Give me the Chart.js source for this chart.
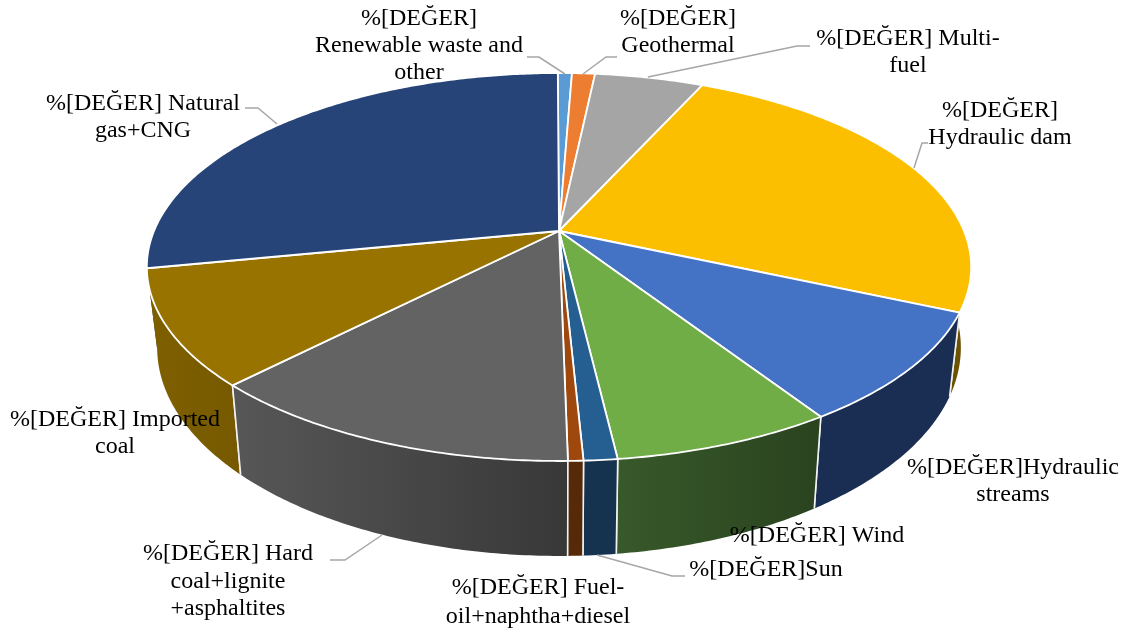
<!DOCTYPE html>
<html lang="en">
<head>
    <meta charset="UTF-8">
    <title>Pie 3D</title>
    <script src="https://cdn.jsdelivr.net/npm/chart.js"></script>
    <style>
        html, body { margin: 0; padding: 0; background: #fff; }
        #wrap { width: 1126px; height: 632px; }
    </style>
</head>
<body>
    <div id="wrap"><canvas id="pie" width="1126" height="632"></canvas></div>
    <script>
        const categories = ['Renewable waste and other', 'Geothermal', 'Multi-fuel', 'Hydraulic dam', 'Hydraulic streams', 'Wind', 'Sun', 'Fuel-oil+naphtha+diesel', 'Hard coal+lignite+asphaltites', 'Imported coal', 'Natural gas+CNG'];
        const values = [0.66, 1.08, 5.1, 24.8, 9.2, 7.3, 1.1, 0.5, 12.6, 9.6, 28];
        const topColors = ['#5b9bd5', '#ed7d31', '#a5a5a5', '#fcbf00', '#4472c4', '#70ad47', '#255e91', '#9e480e', '#636363', '#997300', '#264478'];
        const wallLeft = ['#2f5f8c', '#8a4a1c', '#606060', '#6b5200', '#1a2d52', '#38592a', '#15324f', '#562a08', '#575757', '#7f6000', '#16294a'];
        const wallRight = ['#2f5f8c', '#8a4a1c', '#606060', '#6b5200', '#1a2d52', '#29431f', '#15324f', '#562a08', '#383838', '#765900', '#16294a'];

        // label text, line by line, same order as categories
        const labelLines = [
            ['%[DEĞER]', 'Renewable waste and', 'other'],
            ['%[DEĞER]', 'Geothermal'],
            ['%[DEĞER] Multi-', 'fuel'],
            ['%[DEĞER]', 'Hydraulic dam'],
            ['%[DEĞER]Hydraulic', 'streams'],
            ['%[DEĞER] Wind'],
            ['%[DEĞER]Sun'],
            ['%[DEĞER] Fuel-', 'oil+naphtha+diesel'],
            ['%[DEĞER] Hard', 'coal+lignite', '+asphaltites'],
            ['%[DEĞER] Imported', 'coal'],
            ['%[DEĞER] Natural', 'gas+CNG']
        ];

        // layout of the page, not data
        const labelPos = [[419, 19], [678, 19], [908, 39], [1000, 111], [1013, 468], [817, 536], [766, 570], [538, 588], [228, 554], [115, 420], [143, 104]];
        const lineStep = [27, 27, 27, 27, 27, 27, 27, 29, 27.5, 27, 27];
        const leaders = [
            [[527, 57], [539, 57], [565, 74]],
            [[617, 57], [606, 57], [583, 74]],
            [[810, 46], [797, 46], [648, 77]],
            [[928, 143], [922, 143], [914, 168]],
            [[685, 576], [672, 576], [597, 555]],
            [[330, 560], [345, 560], [382, 535]],
            [[245, 108], [258, 108], [277, 124]]
        ];

        // perspective of the pie plane
        const view = { cx: 559, cy: 231, A: 405, B: 187.3, k: 0.1856 };

        function rim(angle) {
            const u = Math.cos(angle), v = -Math.sin(angle);
            const w = 1 + view.k * v;
            return [view.cx + view.A * u / w, view.cy - view.B * v / w];
        }

        function lower(p) {
            return [view.cx + 0.975 * (p[0] - view.cx), 1.0743 * p[1] + 60.7];
        }

        function rimPoints(a0, a1) {
            const n = Math.max(2, Math.ceil((a1 - a0) / 0.01));
            const pts = [];
            for (let i = 0; i <= n; i++) pts.push(rim(a0 + (a1 - a0) * i / n));
            return pts;
        }

        const pie3d = {
            id: 'pie3d',
            beforeDatasetsDraw(chart) {
                const ctx = chart.ctx;
                const arcs = chart.getDatasetMeta(0).data;
                ctx.save();
                ctx.lineJoin = 'round';

                // walls, back ones first
                const order = arcs.map((el, i) => i).sort((a, b) => {
                    const da = Math.abs((arcs[a].startAngle + arcs[a].endAngle) / 2 - Math.PI / 2);
                    const db = Math.abs((arcs[b].startAngle + arcs[b].endAngle) / 2 - Math.PI / 2);
                    return db - da;
                });
                order.forEach(i => {
                    const el = arcs[i];
                    const top = rimPoints(el.startAngle, el.endAngle);
                    const bottom = top.map(lower).reverse();
                    const xs = top.concat(bottom).map(p => p[0]);
                    const g = ctx.createLinearGradient(Math.min(...xs), 0, Math.max(...xs), 0);
                    g.addColorStop(0, wallLeft[i]);
                    g.addColorStop(1, wallRight[i]);
                    ctx.beginPath();
                    top.concat(bottom).forEach((p, j) => j ? ctx.lineTo(p[0], p[1]) : ctx.moveTo(p[0], p[1]));
                    ctx.closePath();
                    ctx.fillStyle = g;
                    ctx.fill();
                    // upright seams, only those facing the viewer
                    ctx.strokeStyle = '#f2f2f2';
                    ctx.lineWidth = 1.6;
                    ctx.beginPath();
                    [el.startAngle, el.endAngle].forEach(angle => {
                        if (Math.sin(angle) > 0.3) {
                            const a = rim(angle), b = lower(a);
                            ctx.moveTo(a[0], a[1]);
                            ctx.lineTo(b[0], b[1]);
                        }
                    });
                    ctx.stroke();
                });

                // top face
                arcs.forEach((el, i) => {
                    const pts = rimPoints(el.startAngle, el.endAngle);
                    ctx.beginPath();
                    ctx.moveTo(view.cx, view.cy);
                    pts.forEach(p => ctx.lineTo(p[0], p[1]));
                    ctx.closePath();
                    ctx.fillStyle = el.options.backgroundColor;
                    ctx.fill();
                    ctx.strokeStyle = '#ffffff';
                    ctx.lineWidth = 1.8;
                    ctx.stroke();
                });
                ctx.restore();
                return false;
            },
            afterDraw(chart) {
                const ctx = chart.ctx;
                ctx.save();
                ctx.strokeStyle = '#a6a6a6';
                ctx.lineWidth = 1.5;
                leaders.forEach(line => {
                    ctx.beginPath();
                    line.forEach((p, j) => j ? ctx.lineTo(p[0], p[1]) : ctx.moveTo(p[0], p[1]));
                    ctx.stroke();
                });
                ctx.fillStyle = '#000';
                ctx.font = '24px "Liberation Serif"';
                ctx.textAlign = 'center';
                ctx.textBaseline = 'middle';
                labelLines.forEach((lines, i) => {
                    lines.forEach((t, j) => ctx.fillText(t, labelPos[i][0], labelPos[i][1] + j * lineStep[i]));
                });
                ctx.restore();
            }
        };

        new Chart(document.getElementById('pie'), {
            type: 'pie',
            data: {
                labels: categories,
                datasets: [{ data: values, backgroundColor: topColors }]
            },
            options: {
                responsive: false,
                animation: false,
                rotation: -0.2,
                plugins: { legend: { display: false }, tooltip: { enabled: false } }
            },
            plugins: [pie3d]
        });
    </script>
</body>
</html>
